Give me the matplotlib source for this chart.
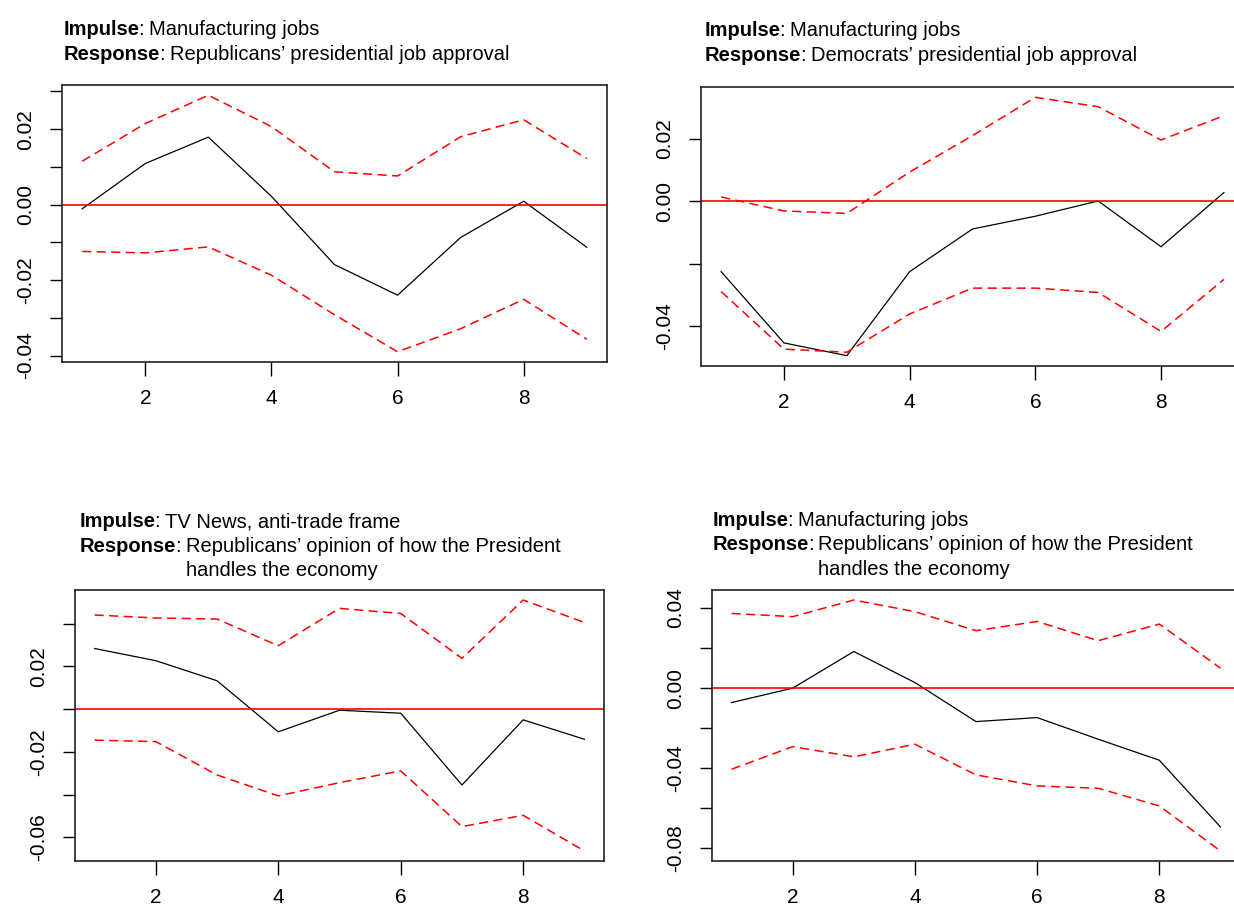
import numpy as np
import matplotlib
matplotlib.use("Agg")
import matplotlib.pyplot as plt

W, H = 1234, 906

steps = [1, 2, 3, 4, 5, 6, 7, 8, 9]
x_ticks = [2, 4, 6, 8]

# impulse: manufacturing jobs -> republicans' job approval
rep_appr_irf = [-0.0011, 0.0109, 0.0179, 0.0022, -0.0159, -0.0240, -0.0087, 0.0009, -0.0113]
rep_appr_upper = [0.0115, 0.0215, 0.0290, 0.0207, 0.0087, 0.0076, 0.0180, 0.0225, 0.0122]
rep_appr_lower = [-0.0124, -0.0128, -0.0112, -0.0187, -0.0292, -0.0390, -0.0329, -0.0251, -0.0357]
rep_appr_ticks = [-0.04, -0.03, -0.02, -0.01, 0.0, 0.01, 0.02, 0.03]
rep_appr_labels = ["-0.04", "", "-0.02", "", "0.00", "", "0.02", ""]

# impulse: manufacturing jobs -> democrats' job approval
dem_appr_irf = [-0.0226, -0.0455, -0.0496, -0.0226, -0.0089, -0.0048, 0.0001, -0.0146, 0.0028]
dem_appr_upper = [0.0014, -0.0031, -0.0039, 0.0094, 0.0211, 0.0334, 0.0304, 0.0197, 0.0275]
dem_appr_lower = [-0.0290, -0.0475, -0.0485, -0.0362, -0.0279, -0.0279, -0.0293, -0.0418, -0.0251]
dem_appr_ticks = [-0.04, -0.02, 0.0, 0.02]
dem_appr_labels = ["-0.04", "", "0.00", "0.02"]

# impulse: tv news anti-trade frame -> republicans' economy opinion
tv_econ_irf = [0.0284, 0.0227, 0.0133, -0.0106, -0.0005, -0.0019, -0.0355, -0.0050, -0.0141]
tv_econ_upper = [0.0441, 0.0427, 0.0422, 0.0297, 0.0472, 0.0448, 0.0238, 0.0511, 0.0406]
tv_econ_lower = [-0.0145, -0.0152, -0.0308, -0.0406, -0.0344, -0.0289, -0.0550, -0.0497, -0.0664]
tv_econ_ticks = [-0.06, -0.04, -0.02, 0.0, 0.02, 0.04]
tv_econ_labels = ["-0.06", "", "-0.02", "", "0.02", ""]

# impulse: manufacturing jobs -> republicans' economy opinion
jobs_econ_irf = [-0.0072, 0.0000, 0.0183, 0.0028, -0.0167, -0.0147, -0.0255, -0.0360, -0.0693]
jobs_econ_upper = [0.0373, 0.0357, 0.0440, 0.0382, 0.0287, 0.0333, 0.0237, 0.0320, 0.0100]
jobs_econ_lower = [-0.0405, -0.0292, -0.0343, -0.0280, -0.0433, -0.0488, -0.0500, -0.0588, -0.0813]
jobs_econ_ticks = [-0.08, -0.06, -0.04, -0.02, 0.0, 0.02, 0.04]
jobs_econ_labels = ["-0.08", "", "-0.04", "", "0.00", "", "0.04"]

plt.rcParams["font.family"] = ["Liberation Sans", "DejaVu Sans"]

fig = plt.figure(figsize=(W / 100, H / 100), dpi=100)
fig.patch.set_facecolor("white")
renderer = fig.canvas.get_renderer()


def add_box(left, top, right, bottom):
    # pixel box (from top-left) -> figure axes
    return fig.add_axes([left / W, 1 - bottom / H, (right - left) / W, (bottom - top) / H])


def heading(x, y, impulse, response, line=24.5):
    kw = dict(fontsize=14.5, va="baseline", ha="left")
    for i, (key, value) in enumerate([("Impulse", impulse), ("Response", response)]):
        yy = y + i * line
        b = fig.text(x / W, 1 - yy / H, key, weight="bold", **kw)
        x1 = b.get_window_extent(renderer).x1
        c = fig.text((x1 - 1.5) / W, 1 - yy / H, ":", **kw)
        x2 = c.get_window_extent(renderer).x1 + 5
        for j, part in enumerate(value.split("\n")):
            fig.text(x2 / W, 1 - (yy + j * line) / H, part, **kw)


def irf_panel(ax, irf, upper, lower, yticks, ylabels):
    ax.plot(steps, irf, color="black", lw=0.9)
    ax.plot(steps, upper, color="red", lw=1.1, ls=(0, (6, 3.5)))
    ax.plot(steps, lower, color="red", lw=1.1, ls=(0, (6, 3.5)))
    ax.margins(x=0.04, y=0.04)
    ax.axhline(0, color="red", lw=1.2)
    ax.set_xticks(x_ticks)
    ax.set_xticklabels([str(t) for t in x_ticks])
    ax.set_yticks(yticks)
    ax.set_yticklabels(ylabels, rotation=90, va="center")
    ax.tick_params(axis="x", length=10, width=1, labelsize=15, pad=9.5)
    ax.tick_params(axis="y", length=8.6, width=1, labelsize=15, pad=10.5)
    for s in ax.spines.values():
        s.set_linewidth(1.2)
        s.set_color("#222222")


ax1 = add_box(62, 85, 607, 362)
irf_panel(ax1, rep_appr_irf, rep_appr_upper, rep_appr_lower, rep_appr_ticks, rep_appr_labels)
heading(64, 35, "Manufacturing jobs", "Republicans\u2019 presidential job approval")

ax2 = add_box(701, 87, 1244, 366)
irf_panel(ax2, dem_appr_irf, dem_appr_upper, dem_appr_lower, dem_appr_ticks, dem_appr_labels)
heading(705, 36.5, "Manufacturing jobs", "Democrats\u2019 presidential job approval")

ax3 = add_box(75, 590, 604, 861)
irf_panel(ax3, tv_econ_irf, tv_econ_upper, tv_econ_lower, tv_econ_ticks, tv_econ_labels)
heading(80, 527, "TV News, anti-trade frame",
        "Republicans\u2019 opinion of how the President\nhandles the economy")

ax4 = add_box(712, 590, 1240, 861)
irf_panel(ax4, jobs_econ_irf, jobs_econ_upper, jobs_econ_lower, jobs_econ_ticks, jobs_econ_labels)
heading(713, 526, "Manufacturing jobs",
        "Republicans\u2019 opinion of how the President\nhandles the economy")

fig.savefig("out.png", dpi=100)
